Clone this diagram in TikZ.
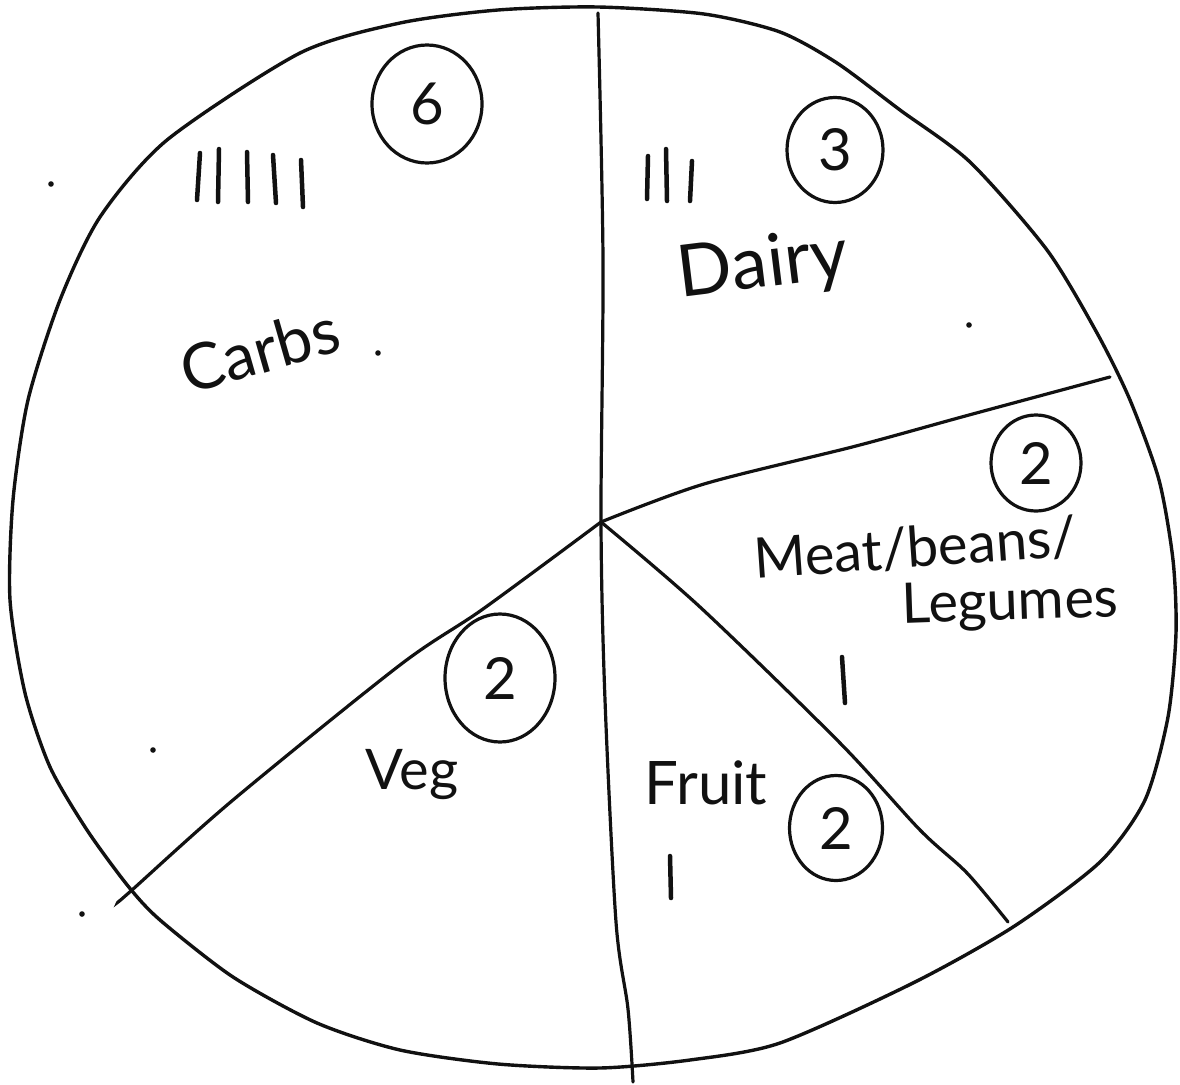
\documentclass[tikz,border=0pt]{standalone}
\usepackage{fontspec}
\setmainfont{Lato}
\usetikzlibrary{shapes.geometric}
\definecolor{Ink}{HTML}{111111}
\tikzset{
 rim/.style={draw=Ink, line width=3.4pt, line cap=round, line join=round},
 cut/.style={draw=Ink, line width=3.2pt, line cap=round},
 tallymark/.style={draw=Ink, line width=4.5pt, line cap=round},
 lbl/.style={text=Ink, inner sep=0pt, font=\fontsize{56}{60}\selectfont},
 countring/.style={ellipse, draw=Ink, line width=3.2pt, inner sep=0pt, text=Ink, font=\fontsize{58}{62}\selectfont}
}
\begin{document}
\begin{tikzpicture}[x=1pt, y=-1pt]
\useasboundingbox (0,0) rectangle (1180,1084);
\coordinate (ctr) at (601,522);
\draw[rim] plot[smooth cycle, tension=0.45] coordinates {
 (598,7) (704,14) (780,32) (837,63) (900,110) (970,162) (1047,250) (1097,333) (1130,400)
 (1159,480) (1173,560) (1176,633) (1168,717) (1145,800) (1100,862) (1013,927) (913,983)
 (780,1043) (690,1060) (600,1068) (498,1064) (400,1050) (317,1023) (233,977) (160,920)
 (128,886) (87,830) (50,767) (25,693) (10,600) (13,500) (28,400) (60,300) (100,217)
 (167,140) (300,53) (400,23) (498,10)};
\draw[cut] plot[smooth, tension=0.5] coordinates {(598,13) (603,260) (ctr) (605,700) (616,922) (628,1009) (633,1082)};
\draw[cut] plot[smooth, tension=0.5] coordinates {(ctr) (704,484) (856,446) (969,415) (1110,377)};
\draw[cut] plot[smooth, tension=0.5] coordinates {(ctr) (700,607) (840,743) (920,830) (967,873) (1008,922)};
\draw[cut] plot[smooth, tension=0.5] coordinates {(ctr) (483,609) (400,665) (233,800) (132,890) (118,902)};
\foreach \xa/\ya/\xb/\yb in {200/153/197/200, 219/149/218/202, 247/152/248/202, 273/155/276/203, 301/160/303/207,
 648/156/647/199, 666/149/667/201, 692/161/690/201, 842/657/845/703, 670/856/671/898}
 \draw[tallymark] (\xa,\ya) -- (\xb,\yb);
\node[countring, minimum width=110pt, minimum height=118pt] (carbsCount) at (427,104) {6};
\node[countring, minimum width=96pt, minimum height=105pt] (dairyCount) at (835,150) {3};
\node[countring, minimum width=90pt, minimum height=96pt] (meatCount) at (1036,463) {2};
\node[countring, minimum width=110pt, minimum height=128pt] (vegCount) at (500,678) {2};
\node[countring, minimum width=93pt, minimum height=105pt] (fruitCount) at (836,828) {2};
\node[lbl, font=\fontsize{64}{68}\selectfont, rotate=16] (carbs) at (260,350) {Carbs};
\node[lbl, font=\fontsize{72}{76}\selectfont, rotate=7] (dairy) at (763,267) {Dairy};
\node[lbl, rotate=4] (meat) at (915,548) {Meat/beans/};
\node[lbl, rotate=2] (legumes) at (1010,605) {Legumes};
\node[lbl] (veg) at (412,775) {Veg};
\node[lbl, font=\fontsize{60}{64}\selectfont] (fruit) at (706,783) {Fruit};
\foreach \px/\py in {51/184, 378/353, 969/325, 153/750, 82/914}
 \fill[Ink] (\px,\py) circle (2.8pt);
\end{tikzpicture}
\end{document}
